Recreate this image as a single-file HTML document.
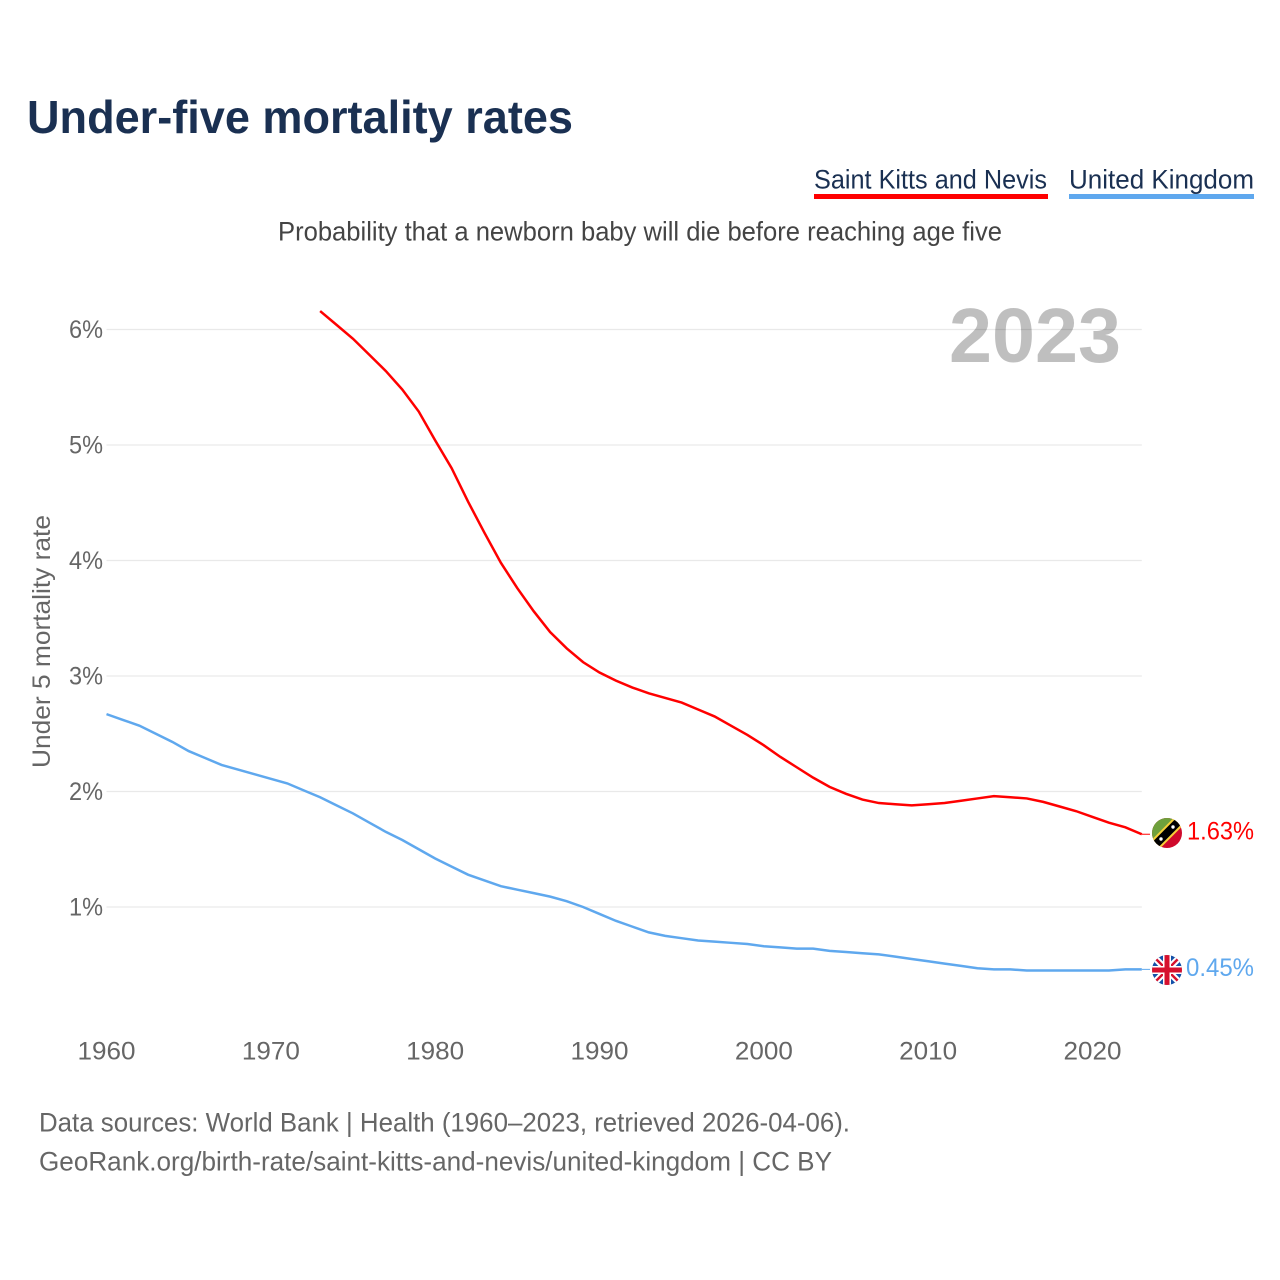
<!DOCTYPE html>
<html lang="en">
<head>
<meta charset="utf-8">
<title>Under-five mortality rates</title>
<style>
html,body{margin:0;padding:0;background:#fff;}
svg{display:block;font-family:"Liberation Sans",Arial,sans-serif;}
</style>
</head>
<body>
<svg id="chart" width="1280" height="1280" viewBox="0 0 1280 1280" xmlns="http://www.w3.org/2000/svg">
  <defs>
    <clipPath id="clip-kn"><circle cx="1167" cy="833" r="15"/></clipPath>
    <clipPath id="clip-uk"><circle cx="1167" cy="970" r="15"/></clipPath>
  </defs>
  <rect width="1280" height="1280" fill="#fff"/>
  <text x="27" y="133" font-size="46" font-weight="700" fill="#1a3052" textLength="546" lengthAdjust="spacingAndGlyphs">Under-five mortality rates</text>

  <g>
    <text x="814" y="188.5" font-size="27" fill="#1a3052" textLength="233" lengthAdjust="spacingAndGlyphs">Saint Kitts and Nevis</text>
    <rect x="814" y="194" width="234" height="5" fill="#ff0000"/>
  </g>
  <g>
    <text x="1069" y="188.5" font-size="27" fill="#1a3052" textLength="185" lengthAdjust="spacingAndGlyphs">United Kingdom</text>
    <rect x="1069" y="194" width="185" height="5" fill="#5fa8ee"/>
  </g>

  <text x="278" y="240.5" font-size="27" fill="#444" textLength="724" lengthAdjust="spacingAndGlyphs">Probability that a newborn baby will die before reaching age five</text>

  <g id="grid"></g>
  <g id="yticks"></g>
  <g id="xticks"></g>

  <text transform="translate(50,768) rotate(-90)" x="0" y="0" font-size="25" fill="#666" textLength="253" lengthAdjust="spacingAndGlyphs">Under 5 mortality rate</text>
  <text x="949" y="362" font-size="77" font-weight="700" fill="#000" fill-opacity="0.25" textLength="172" lengthAdjust="spacingAndGlyphs">2023</text>

  <g id="series"></g>

  <g clip-path="url(#clip-kn)">
    <rect x="1152" y="818" width="30" height="30" fill="#cf0a2c"/>
    <polygon points="1152,818 1182,818 1152,848" fill="#6ea03c"/>
    <line x1="1150" y1="850" x2="1184" y2="816" stroke="#f7d038" stroke-width="12"/>
    <line x1="1150" y1="850" x2="1184" y2="816" stroke="#000" stroke-width="8"/>
    <circle cx="1161" cy="839" r="1.7" fill="#fff"/>
    <circle cx="1173" cy="827" r="1.7" fill="#fff"/>
  </g>
  <text x="1187" y="839.5" font-size="25" fill="#ff0000" textLength="67" lengthAdjust="spacingAndGlyphs">1.63%</text>

  <g clip-path="url(#clip-uk)">
    <rect x="1152" y="955" width="30" height="30" fill="#1450a8"/>
    <line x1="1152" y1="955" x2="1182" y2="985" stroke="#fff" stroke-width="6.5"/>
    <line x1="1182" y1="955" x2="1152" y2="985" stroke="#fff" stroke-width="6.5"/>
    <line x1="1152" y1="955" x2="1182" y2="985" stroke="#d6102e" stroke-width="2.5"/>
    <line x1="1182" y1="955" x2="1152" y2="985" stroke="#d6102e" stroke-width="2.5"/>
    <rect x="1163" y="955" width="8" height="30" fill="#fff"/>
    <rect x="1152" y="966" width="30" height="8" fill="#fff"/>
    <rect x="1164.5" y="955" width="5" height="30" fill="#d6102e"/>
    <rect x="1152" y="967.5" width="30" height="5" fill="#d6102e"/>
  </g>
  <text x="1186" y="976" font-size="25" fill="#5fa8ee" textLength="68" lengthAdjust="spacingAndGlyphs">0.45%</text>

  <text x="39" y="1131.5" font-size="27" fill="#666" textLength="811" lengthAdjust="spacingAndGlyphs">Data sources: World Bank | Health (1960–2023, retrieved 2026-04-06).</text>
  <text x="39" y="1170.5" font-size="27" fill="#666" textLength="793" lengthAdjust="spacingAndGlyphs">GeoRank.org/birth-rate/saint-kitts-and-nevis/united-kingdom | CC BY</text>
</svg>
<script>
const yTickValues = [1, 2, 3, 4, 5, 6];
const yTickLabels = ["1%", "2%", "3%", "4%", "5%", "6%"];
const xTickYears = [1960, 1970, 1980, 1990, 2000, 2010, 2020];
const xTickLabels = ["1960", "1970", "1980", "1990", "2000", "2010", "2020"];
const kittsStartYear = 1973;
const kittsValues = [6.16,6.04,5.92,5.78,5.64,5.48,5.29,5.04,4.80,4.51,4.24,3.98,3.76,3.56,3.38,3.24,3.12,3.03,2.96,2.90,2.85,2.81,2.77,2.71,2.65,2.57,2.49,2.40,2.30,2.21,2.12,2.04,1.98,1.93,1.90,1.89,1.88,1.89,1.90,1.92,1.94,1.96,1.95,1.94,1.91,1.87,1.83,1.78,1.73,1.69,1.63];
const ukStartYear = 1960;
const ukValues = [2.67,2.62,2.57,2.50,2.43,2.35,2.29,2.23,2.19,2.15,2.11,2.07,2.01,1.95,1.88,1.81,1.73,1.65,1.58,1.50,1.42,1.35,1.28,1.23,1.18,1.15,1.12,1.09,1.05,1.00,0.94,0.88,0.83,0.78,0.75,0.73,0.71,0.70,0.69,0.68,0.66,0.65,0.64,0.64,0.62,0.61,0.60,0.59,0.57,0.55,0.53,0.51,0.49,0.47,0.46,0.46,0.45,0.45,0.45,0.45,0.45,0.45,0.46,0.46];

const NS = "http://www.w3.org/2000/svg";
const xScale = function (year) { return 106.5 + (year - 1960) * (986 / 60); };
const yScale = function (v) { return 1022.5 - v * 115.5; };

const gridGroup = document.getElementById("grid");
const yTickGroup = document.getElementById("yticks");
yTickValues.forEach(function (v, i) {
  const line = document.createElementNS(NS, "line");
  
  
  line.setAttribute("x1", xScale(1960));
  line.setAttribute("x2", xScale(2023));
  line.setAttribute("y1", yScale(v));
  line.setAttribute("y2", yScale(v));
  line.setAttribute("stroke", "#e9e9e9");
  line.setAttribute("stroke-width", "1.2");
  gridGroup.appendChild(line);

  const label = document.createElementNS(NS, "text");
  
  
  label.setAttribute("x", 69);
  label.setAttribute("y", yScale(v) + 8.5);
  label.setAttribute("font-size", "25");
  label.setAttribute("fill", "#666");
  label.setAttribute("textLength", "34");
  label.setAttribute("lengthAdjust", "spacingAndGlyphs");
  label.textContent = yTickLabels[i];
  yTickGroup.appendChild(label);
});

const xTickGroup = document.getElementById("xticks");
xTickYears.forEach(function (year, i) {
  const label = document.createElementNS(NS, "text");
  
  
  label.setAttribute("x", xScale(year));
  label.setAttribute("y", 1059.5);
  label.setAttribute("text-anchor", "middle");
  label.setAttribute("font-size", "25");
  label.setAttribute("fill", "#666");
  label.setAttribute("textLength", "58");
  label.setAttribute("lengthAdjust", "spacingAndGlyphs");
  label.textContent = xTickLabels[i];
  xTickGroup.appendChild(label);
});

const seriesGroup = document.getElementById("series");
function buildPoints(values, startYear) {
  return values.map(function (v, i) {
    return xScale(startYear + i).toFixed(2) + "," + yScale(v).toFixed(2);
  });
}

const kittsLine = document.createElementNS(NS, "polyline");


kittsLine.setAttribute("points", buildPoints(kittsValues, kittsStartYear).join(" "));
kittsLine.setAttribute("fill", "none");
kittsLine.setAttribute("stroke", "#ff0000");
kittsLine.setAttribute("stroke-width", "2.5");
seriesGroup.appendChild(kittsLine);

const ukLine = document.createElementNS(NS, "polyline");


ukLine.setAttribute("points", buildPoints(ukValues, ukStartYear).join(" "));
ukLine.setAttribute("fill", "none");
ukLine.setAttribute("stroke", "#5fa8ee");
ukLine.setAttribute("stroke-width", "2.5");
seriesGroup.appendChild(ukLine);

const kittsStub = document.createElementNS(NS, "line");


kittsStub.setAttribute("x1", xScale(2023));
kittsStub.setAttribute("x2", 1150);
kittsStub.setAttribute("y1", yScale(kittsValues[kittsValues.length - 1]));
kittsStub.setAttribute("y2", yScale(kittsValues[kittsValues.length - 1]));
kittsStub.setAttribute("stroke", "#ff0000");
kittsStub.setAttribute("stroke-width", "1");
seriesGroup.appendChild(kittsStub);

const ukStub = document.createElementNS(NS, "line");


ukStub.setAttribute("x1", xScale(2023));
ukStub.setAttribute("x2", 1150);
ukStub.setAttribute("y1", yScale(ukValues[ukValues.length - 1]));
ukStub.setAttribute("y2", yScale(ukValues[ukValues.length - 1]));
ukStub.setAttribute("stroke", "#5fa8ee");
ukStub.setAttribute("stroke-width", "1");
seriesGroup.appendChild(ukStub);
</script>
</body>
</html>
